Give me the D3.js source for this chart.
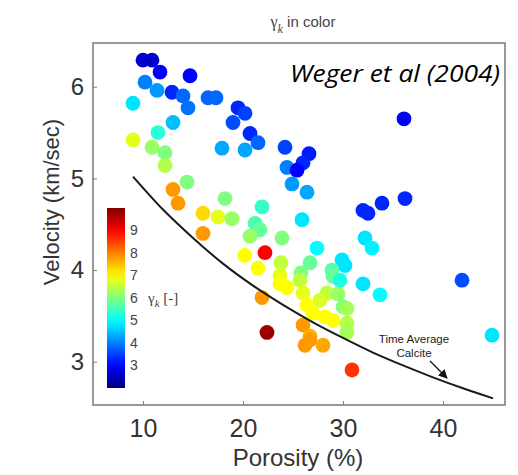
<!DOCTYPE html>
<html><head><meta charset="utf-8">
<script src="https://cdn.jsdelivr.net/npm/d3@7"></script>
<style>body{margin:0;background:#fff}svg{display:block}</style>
</head><body>
<svg id="chart" width="518" height="475"></svg>
<script>
// ---- data ----
const porosity = [10.0,10.9,11.7,14.7,10.2,11.4,12.9,14.0,14.5,16.5,17.3,9.0,19.5,20.2,13.0,11.5,9.0,10.9,12.2,12.2,
  17.9,19.0,20.7,21.5,20.2,24.2,26.6,36.1,26.0,24.4,25.4,24.9,26.4,32.0,32.5,33.9,36.2,14.4,13.0,13.5,
  18.2,16.0,17.5,18.9,21.9,21.2,21.7,20.7,23.9,16.0,20.2,22.2,21.5,23.8,23.7,23.7,25.8,25.7,27.4,29.9,
  30.2,25.9,32.2,32.9,28.9,29.0,29.7,32.0,33.7,41.9,44.9,26.7,26.0,24.4,28.4,21.9,22.4,27.7,29.5,30.0,
  27.0,29.0,30.4,26.0,26.7,28.2,30.4,26.2,26.7,28.0,30.9,26.4,30.4];
const velocity = [6.29,6.29,6.16,6.12,6.05,5.96,5.94,5.90,5.77,5.88,5.88,5.82,5.77,5.71,5.61,5.50,5.42,5.34,5.28,5.14,
  5.33,5.61,5.49,5.39,5.31,5.34,5.27,5.65,5.17,5.12,5.09,4.94,4.85,4.65,4.62,4.73,4.78,4.96,4.88,4.73,
  4.78,4.62,4.58,4.56,4.69,4.51,4.44,4.37,4.35,4.40,4.16,4.19,4.02,4.08,3.94,3.85,3.97,3.89,4.24,4.11,
  4.05,4.55,4.35,4.24,4.00,3.93,3.89,3.85,3.73,3.89,3.29,4.08,3.75,3.81,3.75,3.70,3.32,3.67,3.74,3.60,
  3.53,3.45,3.42,3.40,3.28,3.49,3.32,3.18,3.24,3.18,2.91,3.62,3.58];
const gammaK = [2.6,2.6,3.0,3.0,4.0,4.2,3.3,3.8,3.9,3.8,3.8,4.8,3.3,3.5,4.5,5.3,6.8,6.2,6.0,6.4,
  4.3,3.6,3.3,3.8,4.3,3.5,3.2,2.9,3.3,4.0,3.0,4.2,4.3,3.3,3.3,3.3,3.3,6.0,7.8,7.8,
  6.0,7.3,6.8,6.2,5.4,5.6,5.8,6.2,6.0,7.8,7.0,9.0,7.0,6.5,6.8,7.0,6.0,6.5,5.0,4.8,
  4.8,4.8,4.8,4.9,5.7,5.8,5.2,4.8,5.0,3.6,4.8,5.8,6.8,7.0,6.5,7.8,9.8,6.7,6.2,6.0,
  7.0,7.0,6.4,7.8,7.6,7.0,6.3,7.8,7.8,7.7,8.6,7.0,6.3];
// time-average (calcite) curve
const curvePorosity = [9,12,15,18,21,24,27,30,33,36,39,42,45];
const curveVelocity = [5.02,4.66,4.35,4.07,3.83,3.62,3.43,3.26,3.10,2.96,2.83,2.71,2.60];
const xTicks = [10,20,30,40];
const yTicks = [3,4,5,6];
const cbarTicks = [3,4,5,6,7,8,9];
const cbarDomain = [2,10];

// ---- drawing ----
const svg = d3.select("#chart");
const L=93, R=505, T=43, B=405;
const x = d3.scaleLinear().domain([5,46.2]).range([L,R]);
const y = d3.scaleLinear().domain([2.528,6.477]).range([B,T]);

function jet(t){
  const c = v => Math.max(0, Math.min(1, v));
  const r = c(1.5 - Math.abs(4*t - 3)), g = c(1.5 - Math.abs(4*t - 2)), b = c(1.5 - Math.abs(4*t - 1));
  return d3.rgb(r*255, g*255, b*255).toString();
}
const cnorm = d3.scaleLinear().domain(cbarDomain).range([0,1]).clamp(true);
const color = v => jet(cnorm(v));

const font = "'Liberation Sans', Arial, sans-serif";

// points
const pts = porosity.map((p,i)=>({p, v:velocity[i], g:gammaK[i]}));
svg.append("g").selectAll("circle").data(pts).join("circle")
  .attr("cx", d=>x(d.p)).attr("cy", d=>y(d.v)).attr("r", 7.4)
  .attr("fill", d=>color(d.g));

// time average line
const line = d3.line().x(d=>x(d[0])).y(d=>y(d[1])).curve(d3.curveMonotoneX);
svg.append("path").datum(curvePorosity.map((p,i)=>[p,curveVelocity[i]]))
  .attr("d", line).attr("fill","none").attr("stroke","#1a1a1a").attr("stroke-width",2);

// frame
svg.append("rect").attr("x",L).attr("y",T).attr("width",R-L).attr("height",B-T)
  .attr("fill","none").attr("stroke","#808080").attr("stroke-width",1.6);

// axes
const xAxis = d3.axisBottom(x).tickValues(xTicks).tickSize(-4).tickPadding(14).tickFormat(d3.format("d"));
const gx = svg.append("g").attr("transform",`translate(0,${B})`).call(xAxis);
gx.select(".domain").remove();
gx.selectAll("line").attr("stroke","#808080");
gx.selectAll("text").attr("font-family",font).attr("font-size",25).attr("fill","#333").attr("dy","0.71em");

const yAxis = d3.axisLeft(y).tickValues(yTicks).tickSize(-4).tickPadding(9).tickFormat(d3.format("d"));
const gy = svg.append("g").attr("transform",`translate(${L},0)`).call(yAxis);
gy.select(".domain").remove();
gy.selectAll("line").attr("stroke","#808080");
gy.selectAll("text").attr("font-family",font).attr("font-size",24).attr("fill","#333");

// axis labels
svg.append("text").attr("x",298).attr("y",466).attr("text-anchor","middle")
  .attr("font-family",font).attr("font-size",24).attr("fill","#333").text("Porosity (%)");
svg.append("text").attr("transform","translate(59,202) rotate(-90)").attr("text-anchor","middle")
  .attr("font-family",font).attr("font-size",22).attr("fill","#333").text("Velocity (km/sec)");

// title
const title = svg.append("text").attr("x",303).attr("y",27).attr("text-anchor","middle")
  .attr("font-family",font).attr("font-size",15).attr("fill","#444");
title.append("tspan").attr("font-family","'Liberation Serif', serif").attr("font-size",16).text("γ");
title.append("tspan").attr("font-family","'Liberation Serif', serif").attr("font-style","italic").attr("font-size",12).attr("dy",6).text("k");
title.append("tspan").attr("dy",-6).text(" in color");

// Weger et al
svg.append("text").attr("x",290).attr("y",82)
  .attr("font-family","'Open Sans', sans-serif").attr("font-style","italic").attr("font-size",23)
  .attr("textLength",210).attr("lengthAdjust","spacingAndGlyphs")
  .attr("fill","#000").text("Weger et al (2004)");

// colorbar
const cbX=107, cbW=18, cbTop=208, cbBot=388;
const cy = d3.scaleLinear().domain(cbarDomain).range([cbBot,cbTop]);
const defs = svg.append("defs");
const grad = defs.append("linearGradient").attr("id","jetg").attr("x1",0).attr("y1",1).attr("x2",0).attr("y2",0);
d3.range(0,1.0001,0.05).forEach(t=>grad.append("stop").attr("offset",t).attr("stop-color",jet(t)));
svg.append("rect").attr("x",cbX).attr("y",cbTop).attr("width",cbW).attr("height",cbBot-cbTop).attr("fill","url(#jetg)");
svg.append("g").selectAll("text").data(cbarTicks).join("text")
  .attr("x",cbX+cbW+5).attr("y",d=>cy(d)).attr("dy","0.35em")
  .attr("font-family",font).attr("font-size",14).attr("fill","#444").text(d=>d);
const cl = svg.append("text").attr("x",148).attr("y",303).attr("font-family","'Liberation Serif', serif")
  .attr("font-size",15).attr("fill","#444");
cl.append("tspan").text("γ");
cl.append("tspan").attr("font-style","italic").attr("font-size",11).attr("dy",4).text("k");
cl.append("tspan").attr("dy",-4).text(" [-]");

// annotation
const ann = svg.append("g").attr("font-family",font).attr("font-size",11.5).attr("fill","#222").attr("text-anchor","middle");
ann.append("text").attr("x",414).attr("y",343).text("Time Average");
ann.append("text").attr("x",414).attr("y",357).text("Calcite");
defs.append("marker").attr("id","arr").attr("viewBox","0 0 10 10").attr("refX",9).attr("refY",5)
  .attr("markerWidth",7).attr("markerHeight",7).attr("orient","auto")
  .append("path").attr("d","M0,0 L10,5 L0,10 z").attr("fill","#111");
svg.append("line").attr("x1",430).attr("y1",361).attr("x2",447).attr("y2",378)
  .attr("stroke","#111").attr("stroke-width",1.3).attr("marker-end","url(#arr)");
</script>
</body></html>
